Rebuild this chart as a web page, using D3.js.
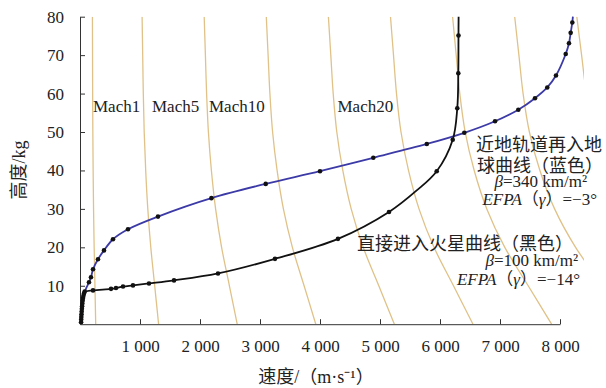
<!DOCTYPE html>
<html lang="zh">
<head>
<meta charset="UTF-8">
<title>再入轨迹</title>
<style>
  body { margin: 0; background: #fff; }
  text { font-family: "Liberation Serif", "Noto Sans CJK SC", serif; fill: #222; }
</style>
</head>
<body>
<div class="canvas"></div>
<script src="https://cdnjs.cloudflare.com/ajax/libs/d3/7.8.5/d3.min.js"></script>
<script>
const xTicks = [1000, 2000, 3000, 4000, 5000, 6000, 7000, 8000];
const xTickLabels = ["1 000", "2 000", "3 000", "4 000", "5 000", "6 000", "7 000", "8 000"];
const yTicks = [10, 20, 30, 40, 50, 60, 70, 80];

// speed of sound vs altitude, mach lines = M * a(h)
const soundAlt = [0, 10, 20, 30, 40, 50, 60, 70, 80];
const soundSpeed = [262, 249, 236, 226, 219, 214, 211, 209, 207];
const machNumbers = [1, 5, 10, 15, 20, 25, 30, 35, 40];
const machLabels = ["Mach1", "Mach5", "Mach10", "Mach20"];

// [velocity m/s, altitude]
const blueCurve = [
  [18, 0.3], [25, 1.5], [33, 3], [42, 4.5], [53, 6], [68, 7.5], [92, 8.9], [122, 10], [150, 10.9],
  [183, 12.2], [217, 14.3], [300, 16.9], [400, 19.2], [550, 22.1], [800, 24.7], [1300, 28],
  [2190, 32.8], [3095, 36.5], [4000, 39.8], [4888, 43.3], [5780, 46.9], [6405, 49.8],
  [6917, 52.8], [7305, 55.8], [7583, 58.8], [7788, 61.6], [7933, 64.7], [8095, 70.3],
  [8150, 73.1], [8178, 75.8], [8205, 78.5], [8215, 80]
];
const blueDots = [
  [150, 10.9], [183, 12.2], [217, 14.3], [300, 16.9], [400, 19.2], [550, 22.1], [800, 24.7],
  [1300, 28], [2190, 32.8], [3095, 36.5], [4000, 39.8], [4888, 43.3], [5780, 46.9], [6405, 49.8],
  [6917, 52.8], [7305, 55.8], [7583, 58.8], [7788, 61.6], [7933, 64.7], [8095, 70.3],
  [8150, 73.1], [8178, 75.8], [8205, 78.5]
];
const blackCurve = [
  [18, 0.3], [25, 1.5], [33, 3], [42, 4.5], [53, 6], [68, 7.5], [100, 8.5], [217, 8.8],
  [517, 9.2], [600, 9.4], [717, 9.8], [883, 10.1], [1150, 10.6], [1567, 11.4], [2300, 13.2],
  [3250, 17], [4300, 22.2], [5150, 29.2], [5612, 34.8], [5945, 39.8], [6212, 48],
  [6288, 56.2], [6305, 65.3], [6308, 75.1], [6310, 80]
];
const blackDots = [
  [217, 8.8], [517, 9.2], [600, 9.4], [717, 9.8], [883, 10.1], [1150, 10.6], [1567, 11.4],
  [2300, 13.2], [3250, 17], [4300, 22.2], [5150, 29.2], [5945, 39.8], [6212, 48],
  [6288, 56.2], [6305, 65.3], [6308, 75.1]
];
// shared dense dots near the ground
const lowDots = [
  [18, 0.5], [20, 1.2], [22, 1.9], [25, 2.6], [28, 3.3], [31, 4], [35, 4.7], [39, 5.4],
  [44, 6.1], [50, 6.8], [57, 7.4], [66, 8], [78, 8.5]
];

const width = 606, height = 388;
const svg = d3.select(".canvas").append("svg")
  .attr("width", width)
  .attr("height", height);

const x = d3.scaleLinear().domain([0, 8000]).range([80, 560]);
const y = d3.scaleLinear().domain([0, 80]).range([324.2, 16.7]);

svg.append("clipPath").attr("id", "clip")
  .append("rect")
    .attr("x", x(0)).attr("y", y(80))
    .attr("width", x(8400) - x(0)).attr("height", y(0) - y(80));

const line = d3.line()
  .x(d => x(d[0]))
  .y(d => y(d[1]))
  .curve(d3.curveCatmullRom.alpha(0.5));

// mach lines
svg.append("g").attr("clip-path", "url(#clip)")
  .selectAll("path")
  .data(machNumbers)
  .join("path")
    .attr("d", m => line(soundAlt.map((h, i) => [m * soundSpeed[i], h])))
    .attr("fill", "none")
    .attr("stroke", "#e0c288")
    .attr("stroke-width", 1.3);

// axes
const xAxis = svg.append("g")
  .attr("transform", `translate(0,${y(0)})`)
  .call(d3.axisBottom(x).tickValues(xTicks).tickFormat((d, i) => xTickLabels[i])
    .tickSizeInner(-5).tickSizeOuter(0).tickPadding(16));
const yAxis = svg.append("g")
  .attr("transform", `translate(${x(0)},0)`)
  .call(d3.axisLeft(y).tickValues(yTicks).tickSizeInner(-5).tickSizeOuter(0).tickPadding(16));
[xAxis, yAxis].forEach(g => {
  g.attr("font-size", 17);
  g.selectAll("path, line").attr("stroke", "#333");
});

// trajectories
svg.append("path")
  .attr("d", line(blueCurve))
  .attr("fill", "none")
  .attr("stroke", "#3c3aa6")
  .attr("stroke-width", 1.8);
svg.append("path")
  .attr("d", line(blackCurve))
  .attr("fill", "none")
  .attr("stroke", "#111")
  .attr("stroke-width", 1.8);

svg.append("g")
  .selectAll("circle")
  .data(lowDots.concat(blueDots, blackDots))
  .join("circle")
    .attr("cx", d => x(d[0]))
    .attr("cy", d => y(d[1]))
    .attr("r", 2.3)
    .attr("fill", "#111");

// mach labels
const machLabelX = [93, 152, 209, 337.5];
svg.append("g")
  .selectAll("text")
  .data(machLabels)
  .join("text")
    .attr("x", (d, i) => machLabelX[i])
    .attr("y", 111.5)
    .attr("font-size", 17)
    .text(d => d);

// annotations
function note(tx, ty, anchor, size, parts) {
  const t = svg.append("text")
    .attr("x", tx).attr("y", ty)
    .attr("text-anchor", anchor)
    .attr("font-size", size);
  parts.forEach(p => {
    t.append("tspan")
      .attr("font-style", p[1] ? "italic" : null)
      .text(p[0]);
  });
}
note(476, 151, "start", 18, [["近地轨道再入地"]]);
note(477, 172, "start", 18, [["球曲线（蓝色）"]]);
note(587, 187, "end", 17, [["β", 1], ["=340 km/m²"]]);
note(597, 205, "end", 17, [["EFPA", 1], ["（"], ["γ", 1], ["）=−3°"]]);

note(357, 249.5, "start", 18, [["直接进入火星曲线（黑色）"]]);
note(578, 266, "end", 17, [["β", 1], ["=100 km/m²"]]);
note(580, 285, "end", 17, [["EFPA", 1], ["（"], ["γ", 1], ["）=−14°"]]);

// axis titles
svg.append("text")
  .attr("transform", "translate(25,170) rotate(-90)")
  .attr("text-anchor", "middle")
  .attr("font-size", 18)
  .text("高度/kg");
svg.append("text")
  .attr("x", 316).attr("y", 383)
  .attr("text-anchor", "middle")
  .attr("font-size", 18)
  .text("速度/（m·s⁻¹）");
</script>
</body>
</html>
